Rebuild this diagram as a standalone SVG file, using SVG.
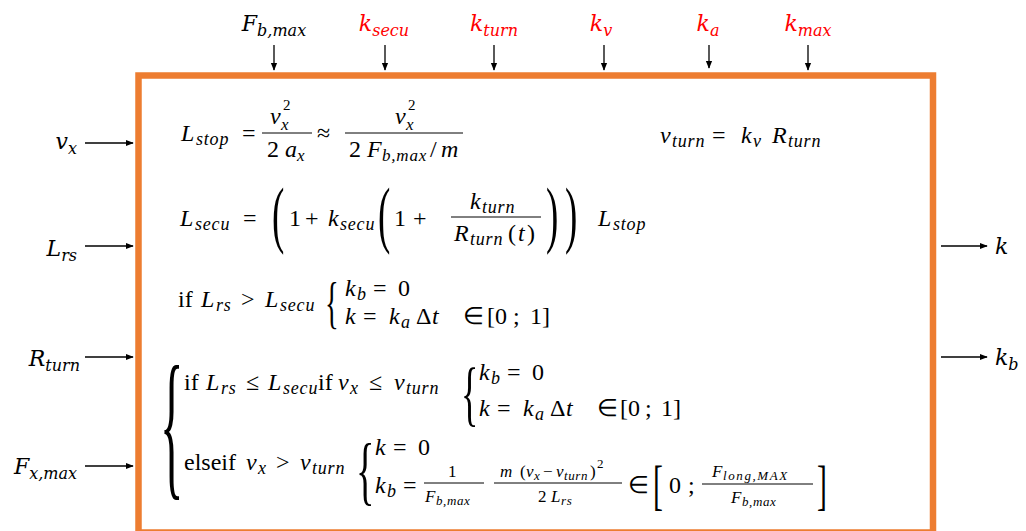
<svg xmlns="http://www.w3.org/2000/svg" width="1026" height="531" viewBox="0 0 1026 531">
<style>
.lbl{font-family:'DejaVu Serif',serif;font-style:italic;font-size:22px;fill:#000}
.red{fill:#FF0000}
.ls{font-size:16px}
.m{font-family:'Liberation Serif',serif;font-size:24px;fill:#000}
.i{font-style:italic}
.s{font-size:18px;letter-spacing:0.8px}
.t{font-size:17px}
.sp{font-size:15px}
.tt{font-size:13px;letter-spacing:0.6px}
.bar{stroke:#000;stroke-width:1}
.conn{stroke:#000;stroke-width:1.3;fill:none;marker-end:url(#ah)}
</style>
<defs>
<marker id="ah" viewBox="0 0 10 10" refX="9" refY="5" markerWidth="8" markerHeight="8" markerUnits="userSpaceOnUse" orient="auto">
<path d="M0,1 L10,5 L0,9 z" fill="#000"/>
</marker>
</defs>
<rect width="1026" height="531" fill="#fff"/>

<g id="block">
<rect x="138.5" y="75.5" width="794.5" height="457" fill="none" stroke="#ED7D31" stroke-width="6.5"/>
</g>

<g id="connectors">
<line class="conn" x1="274" y1="45" x2="274" y2="70"/>
<line class="conn" x1="385" y1="45" x2="385" y2="70"/>
<line class="conn" x1="494" y1="45" x2="494" y2="70"/>
<line class="conn" x1="604" y1="45" x2="604" y2="70"/>
<line class="conn" x1="709" y1="45" x2="709" y2="68"/>
<line class="conn" x1="808" y1="45" x2="808" y2="70"/>
<line class="conn" x1="85" y1="143" x2="133" y2="143"/>
<line class="conn" x1="85" y1="246" x2="133" y2="246"/>
<line class="conn" x1="85" y1="357" x2="133" y2="357"/>
<line class="conn" x1="85" y1="466" x2="133" y2="466"/>
<line class="conn" x1="941" y1="246" x2="987" y2="246"/>
<line class="conn" x1="941" y1="357" x2="987" y2="357"/>
</g>

<g id="in-Fbmax"><text class="lbl" x="274" y="31" text-anchor="middle">F<tspan class="ls" dy="5">b,max</tspan></text></g>
<g id="in-ksecu"><text class="lbl red" x="384" y="31" text-anchor="middle">k<tspan class="ls" dy="5">secu</tspan></text></g>
<g id="in-kturn"><text class="lbl red" x="494" y="31" text-anchor="middle">k<tspan class="ls" dy="5">turn</tspan></text></g>
<g id="in-kv"><text class="lbl red" x="601" y="31" text-anchor="middle">k<tspan class="ls" dy="5">v</tspan></text></g>
<g id="in-ka"><text class="lbl red" x="708" y="31" text-anchor="middle">k<tspan class="ls" dy="5">a</tspan></text></g>
<g id="in-kmax"><text class="lbl red" x="808" y="31" text-anchor="middle">k<tspan class="ls" dy="5">max</tspan></text></g>

<g id="in-vx"><text class="lbl" x="77" y="149" text-anchor="end">v<tspan class="ls" dy="5">x</tspan></text></g>
<g id="in-Lrs"><text class="lbl" x="77" y="256" text-anchor="end">L<tspan class="ls" dy="5">rs</tspan></text></g>
<g id="in-Rturn"><text class="lbl" x="80" y="366" text-anchor="end">R<tspan class="ls" dy="5">turn</tspan></text></g>
<g id="in-Fxmax"><text class="lbl" x="77" y="474" text-anchor="end">F<tspan class="ls" dy="5">x,max</tspan></text></g>

<g id="out-k"><text class="lbl" x="995" y="254">k</text></g>
<g id="out-kb"><text class="lbl" x="995" y="365">k<tspan class="ls" dy="5">b</tspan></text></g>

<g id="equations" font-family="Liberation Serif, serif">
<!-- L_stop -->
<text class="m i" x="181" y="141">L</text><text class="m i s" x="196" y="145">stop</text>
<text class="m" x="242" y="141">=</text>
<text class="m i" x="270" y="124">v</text><text class="m i t" x="281" y="130">x</text><text class="m sp" x="283" y="110">2</text>
<line class="bar" x1="262" y1="133" x2="312" y2="133"/>
<text class="m" x="267" y="157">2</text><text class="m i" x="285" y="157">a</text><text class="m i t" x="297" y="161">x</text>
<text class="m" x="317" y="141">≈</text>
<text class="m i" x="395" y="124">v</text><text class="m i t" x="406" y="130">x</text><text class="m sp" x="408" y="110">2</text>
<line class="bar" x1="345" y1="133" x2="463" y2="133"/>
<text class="m" x="349" y="157">2</text><text class="m i" x="367" y="157">F</text><text class="m i t" x="382" y="161" style="letter-spacing:0.8px">b,max</text><text class="m" x="430" y="157">/</text><text class="m i" x="441" y="157">m</text>

<!-- v_turn -->
<text class="m i" x="660" y="143">v</text><text class="m i s" x="672" y="147">turn</text>
<text class="m" x="712" y="143">=</text>
<text class="m i" x="741" y="143">k</text><text class="m i s" x="753" y="147">v</text>
<text class="m i" x="772" y="143">R</text><text class="m i s" x="788" y="147">turn</text>

<!-- L_secu -->
<text class="m i" x="180" y="226">L</text><text class="m i s" x="195" y="230">secu</text>
<text class="m" x="243" y="226">=</text>
<text class="m" transform="translate(272,239) scale(0.5,1)" style="font-size:74px">(</text>
<text class="m" x="289" y="226">1</text><text class="m" x="305" y="226">+</text>
<text class="m i" x="328" y="226">k</text><text class="m i s" x="340" y="230">secu</text>
<text class="m" transform="translate(378,239) scale(0.5,1)" style="font-size:74px">(</text>
<text class="m" x="394" y="226">1</text><text class="m" x="413" y="226">+</text>
<text class="m i" x="470" y="209">k</text><text class="m i s" x="482" y="213">turn</text>
<line class="bar" x1="451" y1="217" x2="541" y2="217"/>
<text class="m i" x="454" y="241">R</text><text class="m i s" x="470" y="245">turn</text><text class="m" x="508" y="241">(</text><text class="m i" x="518" y="241">t</text><text class="m" x="527" y="241">)</text>
<text class="m" transform="translate(546,239) scale(0.5,1)" style="font-size:74px">)</text>
<text class="m" transform="translate(565,239) scale(0.5,1)" style="font-size:74px">)</text>
<text class="m i" x="598" y="226">L</text><text class="m i s" x="613" y="230">stop</text>

<!-- if L_rs > L_secu -->
<text class="m" x="178" y="307">if</text>
<text class="m i" x="201" y="307">L</text><text class="m i s" x="216" y="311">rs</text>
<text class="m" x="241" y="307">&gt;</text>
<text class="m i" x="265" y="307">L</text><text class="m i s" x="280" y="311">secu</text>
<text class="m" transform="translate(325,322) scale(0.5,1)" style="font-size:57px">{</text>
<text class="m i" x="345" y="296">k</text><text class="m i s" x="357" y="300">b</text><text class="m" x="373" y="296">=</text><text class="m" x="398" y="296">0</text>
<text class="m i" x="345" y="324">k</text><text class="m" x="363" y="324">=</text><text class="m i" x="389" y="324">k</text><text class="m i s" x="401" y="328">a</text><text class="m" x="416" y="324">Δ</text><text class="m i" x="432" y="324">t</text>
<text class="m" x="463" y="324">∈</text><text class="m" x="487" y="324">[0</text><text class="m" x="513" y="324">;</text><text class="m" x="530" y="324">1]</text>

<!-- outer brace -->
<text class="m" transform="translate(160,478) scale(0.3,1)" style="font-size:163px">{</text>

<!-- if L_rs <= L_secu if v_x <= v_turn -->
<text class="m" x="184" y="390">if</text>
<text class="m i" x="206" y="390">L</text><text class="m i s" x="221" y="394">rs</text>
<text class="m" x="246" y="390">≤</text>
<text class="m i" x="268" y="390">L</text><text class="m i s" x="283" y="394">secu</text>
<text class="m" x="318" y="390">if</text>
<text class="m i" x="338" y="390">v</text><text class="m i s" x="350" y="394">x</text>
<text class="m" x="369" y="390">≤</text>
<text class="m i" x="394" y="390">v</text><text class="m i s" x="406" y="394">turn</text>
<text class="m" transform="translate(461,417) scale(0.5,1)" style="font-size:72px">{</text>
<text class="m i" x="479" y="380">k</text><text class="m i s" x="491" y="384">b</text><text class="m" x="507" y="380">=</text><text class="m" x="532" y="380">0</text>
<text class="m i" x="479" y="416">k</text><text class="m" x="497" y="416">=</text><text class="m i" x="523" y="416">k</text><text class="m i s" x="535" y="420">a</text><text class="m" x="550" y="416">Δ</text><text class="m i" x="566" y="416">t</text>
<text class="m" x="597" y="416">∈</text><text class="m" x="620" y="416">[0</text><text class="m" x="645" y="416">;</text><text class="m" x="661" y="416">1]</text>

<!-- elseif v_x > v_turn -->
<text class="m" x="184" y="470">elseif</text>
<text class="m i" x="246" y="470">v</text><text class="m i s" x="258" y="474">x</text>
<text class="m" x="276" y="470">&gt;</text>
<text class="m i" x="300" y="470">v</text><text class="m i s" x="312" y="474">turn</text>
<text class="m" transform="translate(356,496) scale(0.5,1)" style="font-size:77px">{</text>
<text class="m i" x="375" y="455">k</text><text class="m" x="393" y="455">=</text><text class="m" x="418" y="455">0</text>
<text class="m i" x="375" y="493">k</text><text class="m i s" x="387" y="497">b</text><text class="m" x="403" y="493">=</text>
<text class="m t" x="448" y="477">1</text>
<line class="bar" x1="424" y1="483" x2="484" y2="483"/>
<text class="m i t" x="425" y="502">F</text><text class="m i tt" x="436" y="505">b,max</text>
<text class="m i t" x="500" y="477">m</text><text class="m t" x="520" y="477">(</text><text class="m i t" x="526" y="477">v</text><text class="m i tt" x="534" y="480">x</text><text class="m t" x="543" y="477">−</text><text class="m i t" x="556" y="477">v</text><text class="m i tt" x="564" y="480">turn</text><text class="m t" x="590" y="477">)</text><text class="m tt" x="597" y="468">2</text>
<line class="bar" x1="494" y1="483" x2="622" y2="483"/>
<text class="m t" x="538" y="502">2</text><text class="m i t" x="551" y="502">L</text><text class="m i tt" x="561" y="505">rs</text>
<text class="m" x="628" y="493">∈</text>
<text class="m" transform="translate(653,504) scale(0.55,1)" style="font-size:54px">[</text>
<text class="m" x="669" y="493">0</text><text class="m" x="688" y="493">;</text>
<text class="m i t" x="712" y="477">F</text><text class="m i tt" x="723" y="480" style="letter-spacing:1.6px">long,MAX</text>
<line class="bar" x1="702" y1="484" x2="813" y2="484"/>
<text class="m i t" x="731" y="503">F</text><text class="m i tt" x="742" y="506">b,max</text>
<text class="m" transform="translate(817,504) scale(0.55,1)" style="font-size:54px">]</text>
</g>
</svg>
